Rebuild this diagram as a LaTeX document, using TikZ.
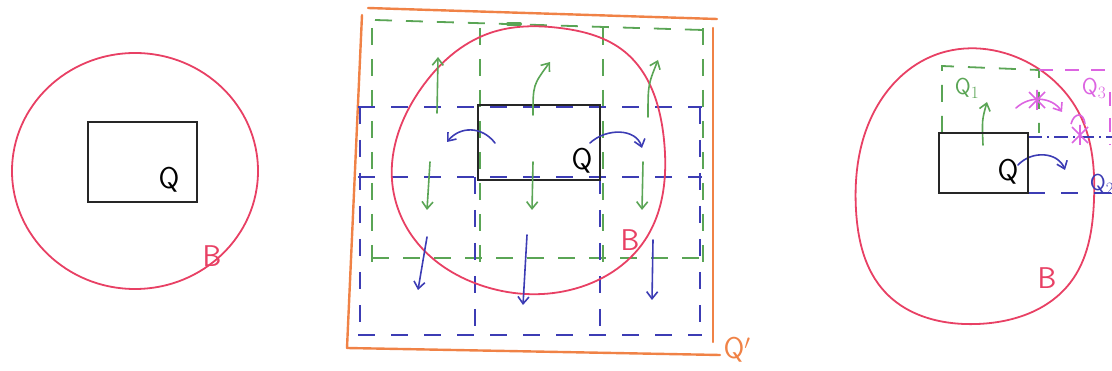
\documentclass[tikz,border=0pt]{standalone}
\usetikzlibrary{arrows.meta,hobby}

\definecolor{penred}{RGB}{232,64,100}
\definecolor{penorange}{RGB}{240,130,70}
\definecolor{pengreen}{RGB}{90,165,85}
\definecolor{penblue}{RGB}{60,60,180}
\definecolor{penmagenta}{RGB}{220,100,225}

\tikzset{
	redline/.style={penred, line width=1.8pt},
	qbox/.style={black!85, line width=2.2pt, line cap=round},
	orangeline/.style={penorange, line width=2.4pt, line cap=round},
	greendash/.style={pengreen, line width=1.8pt, dash pattern=on 17pt off 14pt},
	bluedash/.style={penblue, line width=1.8pt, dash pattern=on 17pt off 16pt},
	magdash/.style={penmagenta, line width=1.6pt, dash pattern=on 14pt off 12pt},
	penarrow/.style={line width=1.6pt, line cap=round, -{Straight Barb[length=7pt,width=11pt]}},
	lbl/.style={font=\sffamily\fontsize{30}{30}\selectfont, inner sep=0pt},
	smalllbl/.style={font=\sffamily\fontsize{23}{23}\selectfont, inner sep=0pt}
}

\begin{document}
\begin{tikzpicture}[x=1pt,y=-1pt]
	
	\useasboundingbox (0,0) rectangle (1112,371);
	
	% ---------- Left panel ----------
	
	% Ball B
	\draw[redline] (135,171) ellipse [x radius=123, y radius=118];
	
	% Box Q
	\draw[qbox] (88,122) rectangle (197,202);
	
	\node[lbl] (qleft) at (169,180) {Q};
	\node[lbl, penred] (bleft) at (212,256) {B};
	
	% ---------- Middle panel ----------
	
	% Outer square Q'
	\draw[orangeline] (368,8) -- (717,19);
	\draw[orangeline] (362,15) -- (347,348);
	\draw[orangeline] (347,348) -- (720,355);
	\draw[orangeline] (713,28) -- (713,342);
	\node[lbl, penorange] (qprime) at (737,350) {Q$'$};
	
	% Green grid (shifted up)
	\draw[greendash] (375,20) -- (703,30);
	\draw[greendash] (372,258) -- (703,258);
	\foreach \x in {372,480,603,703}
	{
		\draw[greendash] (\x,28) -- (\x,262);
	}
	\draw[pengreen, line width=4pt, line cap=round] (508,24) -- (520,24);
	
	% Blue grid (shifted down)
	\foreach \y in {107,177,335}
	{
		\draw[bluedash] (358,\y) -- (702,\y);
	}
	\foreach \x/\t in {360/107,475/177,600/177,700/107}
	{
		\draw[bluedash] (\x,\t) -- (\x,335);
	}
	
	% Ball B
	\draw[redline, use Hobby shortcut, closed=true]
		(392,180) .. (420,90) .. (490,33) .. (560,28) .. (625,52)
		.. (664,140) .. (645,240) .. (570,290) .. (480,285) .. (415,240);
	\node[lbl, penred] (bmid) at (630,240) {B};
	
	% Box Q
	\draw[qbox] (478,105) rectangle (600,180);
	\node[lbl] (qmid) at (582,161) {Q};
	
	% Green arrows
	\draw[penarrow, pengreen] (437,113) -- (438,57);
	\draw[penarrow, pengreen] (533,115) .. controls (533,85) .. (550,62);
	\draw[penarrow, pengreen] (648,117) .. controls (648,85) .. (658,60);
	\foreach \a/\b in {430/427,533/532,643/642}
	{
		\draw[penarrow, pengreen] (\a,162) -- (\b,210);
	}
	
	% Blue arrows
	\draw[penarrow, penblue] (427,237) -- (418,290);
	\draw[penarrow, penblue] (527,235) -- (523,305);
	\draw[penarrow, penblue] (653,240) -- (652,300);
	\draw[penarrow, penblue] (495,143) .. controls (482,126) and (460,126) .. (447,142);
	\draw[penarrow, penblue] (590,143) .. controls (606,128) and (636,128) .. (642,148);
	
	% ---------- Right panel ----------
	
	% Ball B
	\draw[redline, use Hobby shortcut, closed=true]
		(856,210) .. (875,110) .. (935,55) .. (1027,62) .. (1080,115)
		.. (1094,200) .. (1070,283) .. (977,324) .. (885,292);
	\node[lbl, penred] (bright) at (1047,278) {B};
	
	% Q1 (green)
	\draw[greendash] (942,133) -- (942,66) -- (1039,70) -- (1039,133);
	\node[smalllbl, pengreen] (qone) at (967,88) {Q$_1$};
	\draw[penarrow, pengreen] (983,145) .. controls (982,120) .. (987,102);
	
	% Q3 (magenta)
	\draw[magdash] (1039,70) -- (1112,70);
	\draw[magdash] (1110,92) -- (1110,145);
	\node[smalllbl, penmagenta] (qthree) at (1094,88) {Q$_3$};
	
	% Q2 (blue)
	\draw[penblue, line width=1.6pt, dash pattern=on 14pt off 5pt on 2pt off 5pt] (1028,137) -- (1112,137);
	\draw[bluedash] (1028,193) -- (1112,193);
	\node[smalllbl, penblue] (qtwo) at (1102,184) {Q$_2$};
	\draw[penarrow, penblue] (1018,165) .. controls (1032,150) and (1058,152) .. (1065,170);
	
	% Box Q
	\draw[qbox] (939,133) rectangle (1028,193);
	\node[lbl] (qright) at (1008,172) {Q};
	
	% Crossed-out moves
	\draw[penarrow, penmagenta] (1016,108) .. controls (1030,95) and (1052,97) .. (1062,112);
	\draw[penmagenta, line width=1.6pt] (1029,92) -- (1045,108) (1045,92) -- (1029,108) (1037,90) -- (1037,110);
	\draw[penmagenta, line width=1.6pt] (1072,127) -- (1088,143) (1088,127) -- (1072,143) (1080,125) -- (1080,145);
	\draw[penmagenta, line width=1.6pt] (1071,124) .. controls (1074,112) and (1084,112) .. (1085,124);
	
\end{tikzpicture}
\end{document}
